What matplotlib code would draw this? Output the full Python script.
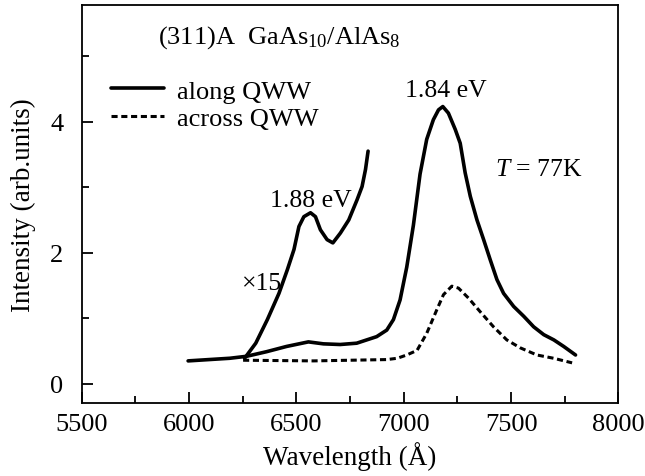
import matplotlib
matplotlib.use('Agg')
import matplotlib.pyplot as plt
from matplotlib.ticker import MultipleLocator

plt.rcParams['font.family'] = ['Liberation Serif', 'DejaVu Serif']
plt.rcParams['mathtext.fontset'] = 'custom'
plt.rcParams['mathtext.rm'] = 'Liberation Serif'
plt.rcParams['mathtext.it'] = 'Liberation Serif:italic'

# along QWW (solid)
along_x = [5996, 6190, 6268, 6361, 6454, 6556, 6626, 6704, 6781, 6874, 6921, 6952,
           6983, 7014, 7045, 7076, 7107, 7138, 7162, 7182, 7208, 7240, 7263, 7286,
           7310, 7341, 7372, 7403, 7434, 7465, 7512, 7559, 7605, 7652, 7699, 7745, 7800]
along_y = [0.35, 0.39, 0.42, 0.49, 0.57, 0.64, 0.61, 0.60, 0.62, 0.72, 0.82, 0.98,
           1.28, 1.78, 2.42, 3.20, 3.73, 4.03, 4.18, 4.23, 4.13, 3.88, 3.67, 3.22,
           2.86, 2.50, 2.20, 1.89, 1.59, 1.38, 1.18, 1.03, 0.87, 0.75, 0.67, 0.57, 0.44]

# x15 magnified part (solid)
x15_x = [6259, 6311, 6365, 6419, 6458, 6489, 6512, 6535, 6566, 6589, 6612, 6643,
         6670, 6705, 6744, 6783, 6806, 6822, 6834]
x15_y = [0.39, 0.62, 0.98, 1.38, 1.74, 2.05, 2.40, 2.55, 2.61, 2.55, 2.35, 2.20,
         2.15, 2.30, 2.50, 2.81, 3.01, 3.27, 3.55]

# across QWW (dashed)
across_x = [6252, 6580, 6921, 6970, 7014, 7062, 7107, 7154, 7185, 7224, 7255, 7301,
            7356, 7418, 7480, 7542, 7620, 7698, 7784]
across_y = [0.36, 0.35, 0.37, 0.39, 0.44, 0.51, 0.77, 1.13, 1.36, 1.49, 1.46, 1.31,
            1.10, 0.87, 0.67, 0.55, 0.44, 0.39, 0.32]

fig = plt.figure(figsize=(6.45, 4.77), dpi=100)
ax = fig.add_axes([0.1265, 0.152, 0.8324, 0.8355])

ax.plot(along_x, along_y, color='black', lw=2.6, label='along QWW',
        solid_joinstyle='round', solid_capstyle='round')
ax.plot(across_x, across_y, color='black', lw=2.2, ls=(0, (2.0, 1.2)), label='across QWW')
ax.plot(x15_x, x15_y, color='black', lw=2.6, solid_joinstyle='round', solid_capstyle='round')

ax.set_xlim(5500, 8000)
ax.set_ylim(-0.3, 5.78)
ax.xaxis.set_major_locator(MultipleLocator(500))
ax.xaxis.set_minor_locator(MultipleLocator(250))
ax.yaxis.set_major_locator(MultipleLocator(2))
ax.yaxis.set_minor_locator(MultipleLocator(1))
ax.tick_params(which='both', direction='in', top=False, right=False, labelsize=19, width=1.3)
ax.tick_params(which='major', length=7.7)
ax.tick_params(which='minor', length=4.8)
ax.tick_params(axis='x', which='both', pad=6.5)
ax.tick_params(axis='y', which='both', pad=13)
for s in ax.spines.values():
    s.set_linewidth(1.3)

ax.set_xlabel('Wavelength (Å)', fontsize=19.5, labelpad=5)
ax.set_ylabel('Intensity (arb.units)', fontsize=19.5, labelpad=10)

ax.text(5856, 5.30, '(311)A  GaAs$_{10}$/AlAs$_8$', fontsize=19, va='center', ha='left')
ax.text(7194, 4.49, '1.84 eV', fontsize=18.5, va='center', ha='center')
ax.text(6567, 2.81, '1.88 eV', fontsize=18.5, va='center', ha='center')
ax.text(7628, 3.27, '$T$ = 77K', fontsize=18.5, va='center', ha='center')
ax.text(6342, 1.54, '×15', fontsize=18.5, va='center', ha='center')

ax.legend(loc='center left', bbox_to_anchor=(0.055, 0.75), frameon=False, fontsize=19,
          handlelength=2.0, handletextpad=0.5, labelspacing=0.15, borderpad=0,
          borderaxespad=0)

fig.savefig('out.png', dpi=100)
